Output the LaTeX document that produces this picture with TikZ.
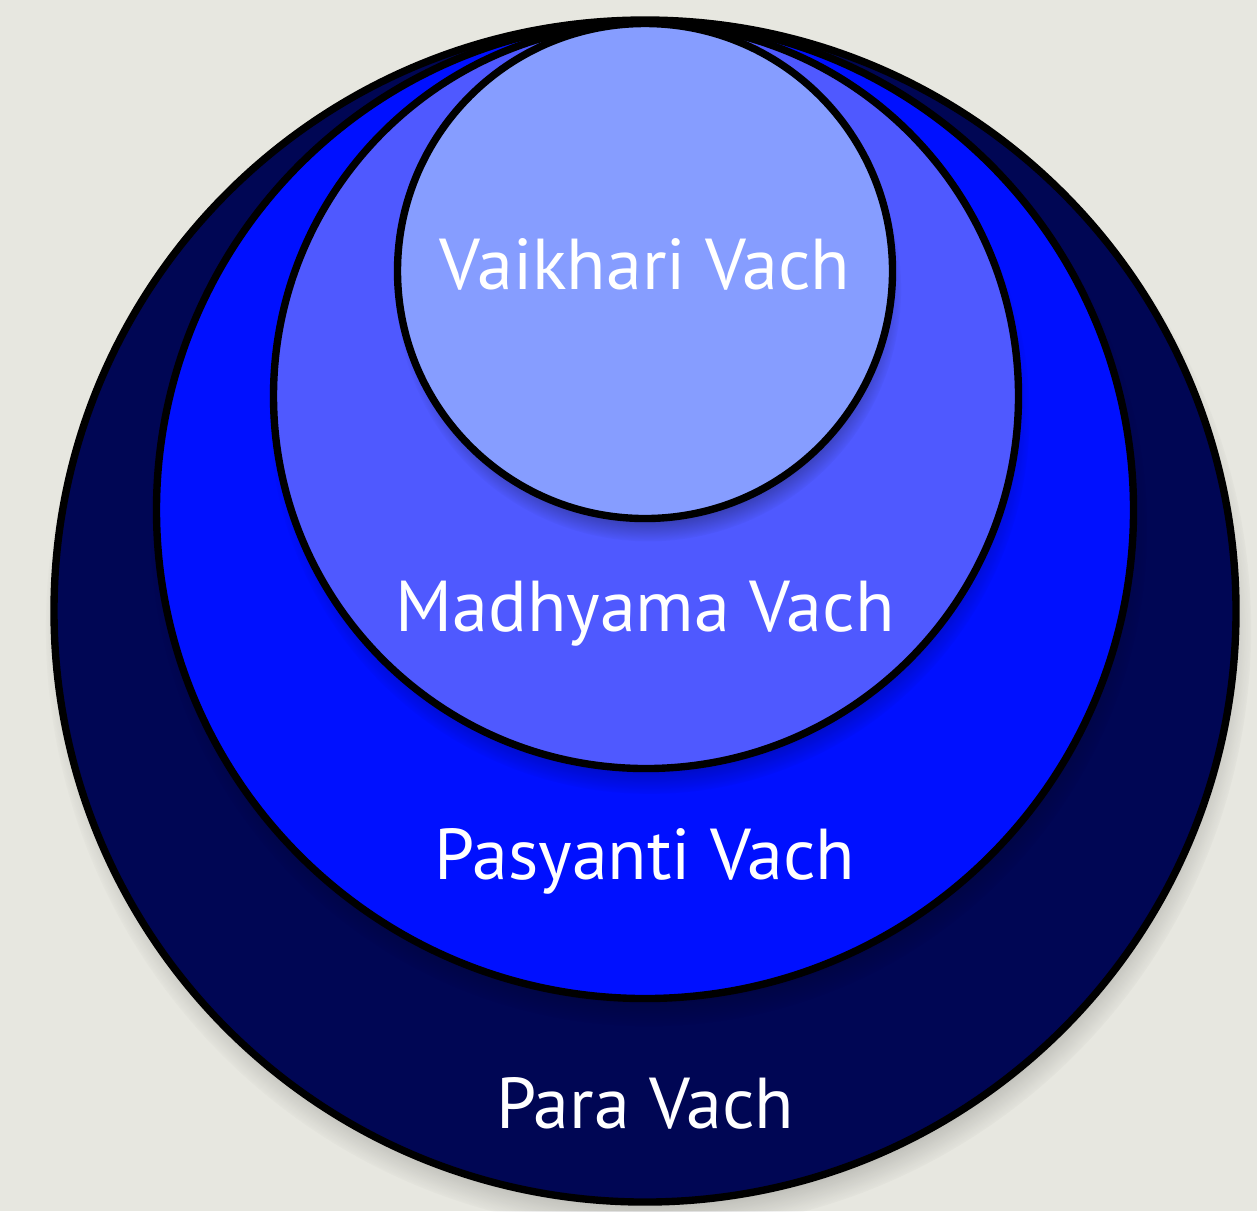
\documentclass[tikz,border=0pt]{standalone}
\usepackage{fontspec}
\setmainfont{PT Sans}
\usetikzlibrary{shadows}
\definecolor{paper}{HTML}{E7E7E0}
\definecolor{parablue}{HTML}{000654}
\definecolor{pasyantiblue}{HTML}{0010FF}
\definecolor{madhyamablue}{HTML}{4F59FF}
\definecolor{vaikhariblue}{HTML}{869DFF}

\begin{document}
\begin{tikzpicture}[
  ring/.style={circle,draw=black,line width=2.1pt,inner sep=0pt,
    circular drop shadow={shadow xshift=1pt,shadow yshift=-5pt,
      shadow scale=1.02,fill=black,opacity=0.5}},
  vach/.style={anchor=base,text=white,font=\fontsize{20.5}{25}\selectfont}
]
\fill[color=paper] (0,0) rectangle (12.57,-12.11);

% the four circles, outermost first
\node[ring,fill=parablue,minimum size=11.82cm] (para) at (6.45,-6.11) {};
\node[ring,fill=pasyantiblue,minimum size=9.77cm] (pasyanti) at (6.45,-5.10) {};
\node[ring,fill=madhyamablue,minimum size=7.45cm] (madhyama) at (6.46,-3.96) {};
\node[ring,fill=vaikhariblue,minimum size=4.95cm] (vaikhari) at (6.45,-2.71) {};

% labels
\node[vach] (vaikharilabel) at (6.45,-2.89) {Vaikhari Vach};
\node[vach] (madhyamalabel) at (6.45,-6.31) {Madhyama Vach};
\node[vach] (pasyantilabel) at (6.45,-8.79) {Pasyanti Vach};
\node[vach] (paralabel) at (6.45,-11.28) {Para Vach};
\end{tikzpicture}
\end{document}
